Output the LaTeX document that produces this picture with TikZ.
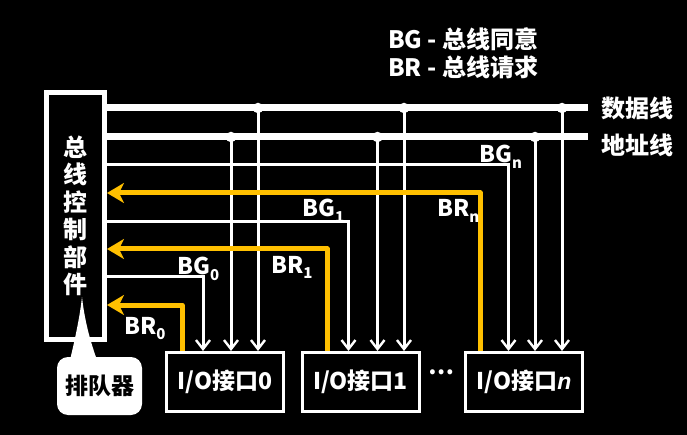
\documentclass[tikz,border=0pt]{standalone}
\usepackage{fontspec}
\setmainfont{Noto Sans CJK SC}
\newfontfamily\bifont{Liberation Sans}
\usetikzlibrary{arrows.meta}
\definecolor{gold}{HTML}{FFC000}
\newcommand\subs[1]{\raisebox{-0.45ex}{\fontsize{15}{15}\selectfont #1}}
\begin{document}
\begin{tikzpicture}[x=1pt,y=-1pt,
  every node/.style={text=white, font=\fontsize{23}{26}\selectfont\bfseries, inner sep=0pt},
  bus/.style={draw=white, line width=7pt},
  sig/.style={draw=white, line width=3pt},
  sigarrow/.style={sig, -{Straight Barb[length=9pt,width=14pt,line width=2.4pt]}},
  req/.style={draw=gold, line width=5pt, line join=round, -{Stealth[length=17pt,width=20pt,inset=5pt]}},
  box/.style={draw=white, line width=3pt, minimum width=117pt, minimum height=59pt},
  dot/.style={fill=white, circle, minimum size=10.5pt, inner sep=0pt},
  lbl/.style={anchor=base west}]
\fill[black] (0,0) rectangle (687,435);
\useasboundingbox (0,0) rectangle (687,435);

% controller
\node[draw=white, line width=5pt, minimum width=58.5pt, minimum height=247.5pt,
      align=center, font=\fontsize{24}{27.5}\selectfont\bfseries] (ctrl) at (75.25,216)
  {总\\线\\控\\制\\部\\件};

% I/O interfaces
\node[box] (io0) at (225,382) {I/O接口0};
\node[box] (io1) at (360.5,382) {I/O接口1};
\node[box] (ion) at (524,382) {I/O接口{\bifont\bfseries\itshape n}};
\node (dots) at (441,372) {…};

% buses
\coordinate (dend) at (588,108);
\coordinate (aend) at (588,137);
\draw[bus] (ctrl.east |- dend) -- (dend);
\draw[bus] (ctrl.east |- aend) -- (aend);
\node[anchor=west, font=\fontsize{24}{26}\selectfont\bfseries] (dlbl) at (601,108) {数据线};
\node[anchor=west, font=\fontsize{24}{26}\selectfont\bfseries] (albl) at (601,145) {地址线};

% taps
\foreach \n/\xa/\xd in {0/231/258, 1/377.5/404, n/535/562}{
  \node[dot] (a\n) at (\xa,137) {};
  \node[dot] (d\n) at (\xd,108) {};
  \draw[sigarrow] (a\n.center) -- (a\n.center |- io\n.north);
  \draw[sigarrow] (d\n.center) -- (d\n.center |- io\n.north);
}

% grant lines
\draw[sigarrow] (ctrl.east |- 0,277) -- (203,277) -- (203,277 |- io0.north);
\draw[sigarrow] (ctrl.east |- 0,222) -- (348.5,222) -- (348.5,222 |- io1.north);
\draw[sigarrow] (ctrl.east |- 0,165) -- (508.5,165) -- (508.5,165 |- ion.north);

% request lines
\draw[req] (182,0 |- io0.north) -- (182,305) -- (ctrl.east |- 0,305);
\draw[req] (327,0 |- io1.north) -- (327,249) -- (ctrl.east |- 0,249);
\draw[req] (480,0 |- ion.north) -- (480,193) -- (ctrl.east |- 0,193);

% labels
\node[lbl] (bg0) at (177,275) {BG\subs{0}};
\node[lbl] (br0) at (124,334) {BR\subs{0}};
\node[lbl] (bg1) at (302,217) {BG\subs{1}};
\node[lbl] (br1) at (271,273) {BR\subs{1}};
\node[lbl] (bgn) at (479,163) {BG\subs{n}};
\node[lbl] (brn) at (437,217) {BR\subs{n}};

% legend
\node[lbl, font=\fontsize{24}{26}\selectfont\bfseries] (leg1) at (388,49) {BG - 总线同意};
\node[lbl, font=\fontsize{24}{26}\selectfont\bfseries] (leg2) at (388,77) {BR - 总线请求};

% queue callout
\fill[white] (70,360) .. controls (76,335) and (80,315) .. (82,297)
  .. controls (84,315) and (88,335) .. (97,360) -- cycle;
\node[fill=white, text=black, rounded corners=11pt, minimum width=85pt, minimum height=58pt] (queue) at (99.5,386) {排队器};
\end{tikzpicture}
\end{document}
